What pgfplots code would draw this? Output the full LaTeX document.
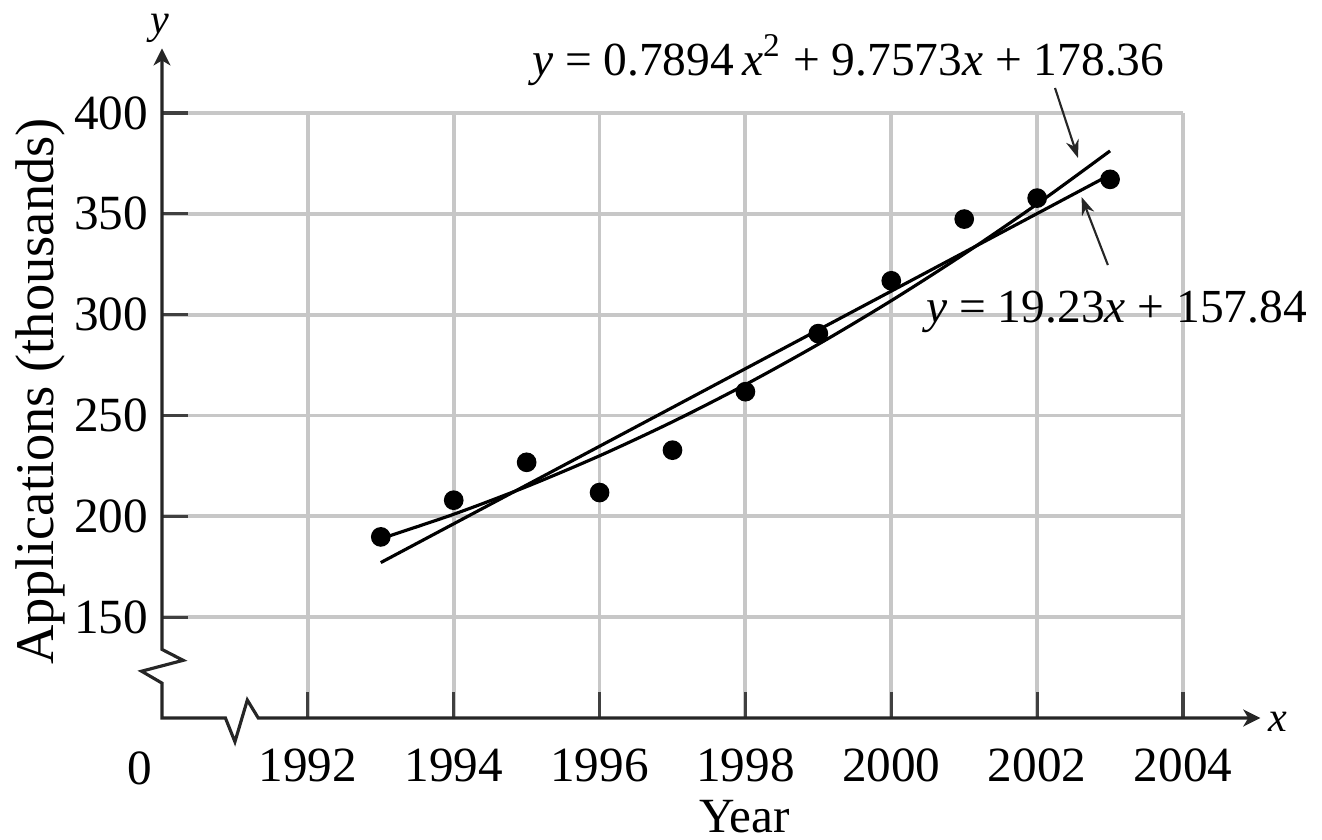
\documentclass[border=0pt]{standalone}
\usepackage{fontspec}
\setmainfont{Liberation Serif}
\usepackage{pgfplots}
\pgfplotsset{compat=1.18}
\usetikzlibrary{arrows.meta}
\begin{document}
\fontsize{14}{17}\selectfont
\begin{tikzpicture}
\useasboundingbox (-16.2mm,-12.2mm) rectangle (116mm,71.8mm);
\begin{axis}[
  at={(0,0)}, anchor=south west,
  scale only axis, width=102.1mm, height=60.5mm,
  xmin=1990, xmax=2004, ymin=100, ymax=400,
  axis lines=left, axis line style={draw=none},
  clip=false,
  xtick={1992,1994,...,2004}, ytick={150,200,...,400},
  grid=major, major grid style={color=black!22, line width=1.1pt},
  tick align=inside, major tick length=2.6mm,
  tick style={color=black!75, line width=0.9pt},
  /pgf/number format/assume math mode=true,
  /pgf/number format/1000 sep={},
  xticklabel style={yshift=-1.4mm},
  yticklabel style={xshift=0.3mm},
]
% data
\addplot[only marks, mark=*, mark size=2.6pt, black] coordinates {
(1993,189.8) (1994,208.0) (1995,226.8) (1996,211.8) (1997,232.8)
(1998,261.8) (1999,290.6) (2000,316.8) (2001,347.4) (2002,357.8) (2003,367.1)};
% linear fit y = 19.23x + 157.84 (x = year - 1992)
\addplot[black, line width=0.9pt] coordinates {(1993,177.07) (2003,369.37)};
% quadratic fit y = 0.7894x^2 + 9.7573x + 178.36
\addplot[black, line width=0.9pt, smooth] coordinates {
(1993,188.91) (1994,201.03) (1995,214.74) (1996,230.02) (1997,246.88)
(1998,265.32) (1999,285.34) (2000,306.94) (2001,330.12) (2002,354.87) (2003,381.21)};
% axes with breaks
\draw[black!85, line width=0.9pt, {Stealth[length=1.7mm,width=1.7mm,inset=0.5mm]}-{Stealth[length=1.7mm,width=1.7mm,inset=0.5mm]}]
  (axis cs:1990,432) -- (axis cs:1990,134) -- (axis cs:1990.29,128.6) -- (axis cs:1989.72,123.2)
  -- (axis cs:1990,117.3) -- (axis cs:1990,100) -- (axis cs:1990.87,100) -- (axis cs:1991.0,88.2)
  -- (axis cs:1991.17,108.9) -- (axis cs:1991.32,100) -- (axis cs:2005.06,100);
% labels
\node[font=\fontsize{12}{14}\selectfont\itshape] at (axis cs:1989.97,442.1) {y};
\node[font=\fontsize{12}{14}\selectfont\itshape] at (axis cs:2005.30,98) {x};
\node at (axis cs:1989.70,75.2) {0};
\node at (axis cs:1997.99,51.0) {Year};
\node[rotate=90, font=\fontsize{15.5}{18}\selectfont] at (axis cs:1988.33,262.0) {Applications (thousands)};
% equations
\node[font=\fontsize{13.5}{16}\selectfont] at (axis cs:1999.41,426.3)
  {\textit{y} = 0.7894\,\textit{x}\textsuperscript{2} + 9.7573\textit{x} + 178.36};
\node[font=\fontsize{13.5}{16}\selectfont] at (axis cs:2003.09,301.3)
  {\textit{y} = 19.23\textit{x} + 157.84};
\draw[black!85, line width=0.6pt, -{Stealth[length=1.8mm,width=1.3mm]}]
  (axis cs:2002.245,412.4) -- (axis cs:2002.56,377.7);
\draw[black!85, line width=0.6pt, -{Stealth[length=1.8mm,width=1.3mm]}]
  (axis cs:2002.97,324.6) -- (axis cs:2002.61,358.3);
\end{axis}
\end{tikzpicture}
\end{document}
